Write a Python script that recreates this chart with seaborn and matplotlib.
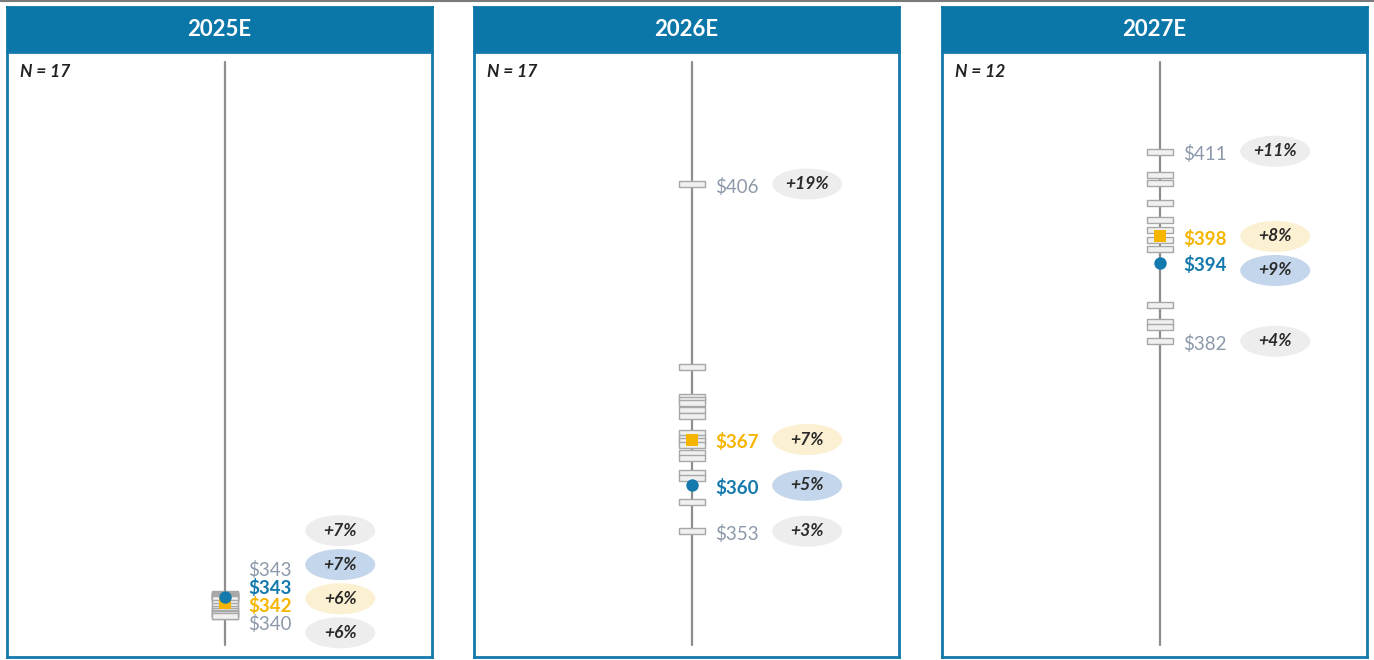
import numpy as np
import pandas as pd
import seaborn as sns
import matplotlib
matplotlib.use("Agg")
import matplotlib.pyplot as plt
from matplotlib.patches import Ellipse
from matplotlib.path import Path

# ---------------- data ----------------
years = ["2025E", "2026E", "2027E"]
n_counts = [17, 17, 12]
estimates_2025 = [343.4, 343.3, 343.2, 343.1, 343.0, 342.9, 342.8, 342.7, 342.6,
                  342.0, 341.6, 341.2, 340.8, 340.5, 340.3, 340.1, 340.0]
estimates_2026 = [406.0, 378.1, 373.5, 373.0, 372.6, 371.5, 370.6, 368.0, 367.2,
                  366.8, 366.2, 364.9, 364.2, 361.9, 361.1, 357.5, 353.0]
estimates_2027 = [410.9, 407.4, 406.2, 403.1, 400.5, 399.0, 397.5, 396.1,
                  387.5, 385.0, 384.2, 382.0]
estimates = [estimates_2025, estimates_2026, estimates_2027]

high = [343, 406, 411]
median = [343, 360, 394]
mean = [342, 367, 398]
low = [340, 353, 382]
pct_high = ["+7%", "+19%", "+11%"]
pct_median = ["+7%", "+5%", "+9%"]
pct_mean = ["+6%", "+7%", "+8%"]
pct_low = ["+6%", "+3%", "+4%"]

# ---------------- style ----------------
sns.set_theme(style="white")
plt.rcParams["font.family"] = ["Lato", "DejaVu Sans"]

BLUE = "#1479AC"
HEADER = "#0B76A8"
YELLOW = "#F6B500"
GRAY_TXT = "#8D99AA"
PILL = {"gray": "#EDEDED", "blue": "#C4D6EC", "yellow": "#FCF0D3"}
TXT = {"gray": GRAY_TXT, "blue": BLUE, "yellow": YELLOW}

W, H = 1374, 660
fig = plt.figure(figsize=(W / 100, H / 100), dpi=100)
fig.patch.set_facecolor("white")

# thin gray line at very top
fig.add_artist(plt.Line2D([0, 1], [1 - 1 / H, 1 - 1 / H], transform=fig.transFigure,
                          color="#7A7A7A", lw=1.5))

YLIM = (333.8, 426.15)
tick_marker = Path([(-2.3, -0.5), (2.3, -0.5), (2.3, 0.5), (-2.3, 0.5), (-2.3, -0.5)],
                   [Path.MOVETO, Path.LINETO, Path.LINETO, Path.LINETO, Path.CLOSEPOLY])

LINE_X, TEXT_X, PILL_X = 0.512, 0.568, 0.784
PILL_W = 70 / 425
PILL_H = 31 / 605 * (YLIM[1] - YLIM[0])


def spread(vals, gap, lo):
    order = sorted(range(len(vals)), key=lambda i: -vals[i])
    pos = {}
    prev = None
    for i in order:
        p = vals[i] if prev is None else min(vals[i], prev - gap)
        pos[i] = p
        prev = p
    lowest = min(pos.values())
    if lowest < lo:
        shift = lo - lowest
        pos = {k: v + shift for k, v in pos.items()}
    return [pos[i] for i in range(len(vals))]


lefts = [7, 474, 942]
pw = 425
for k in range(3):
    left = lefts[k]
    # header
    hax = fig.add_axes([left / W, (H - 52) / H, pw / W, 45 / H])
    hax.set_facecolor(HEADER)
    hax.set_xticks([]); hax.set_yticks([])
    for s in hax.spines.values():
        s.set_color(HEADER); s.set_linewidth(2)
    hax.text(0.5, 0.5, years[k], color="white", fontsize=16, fontweight="bold",
             ha="center", va="center", transform=hax.transAxes)

    ax = fig.add_axes([left / W, 3 / H, pw / W, 605 / H])
    ax.set_xlim(0, 1)
    ax.set_ylim(*YLIM)
    ax.set_xticks([]); ax.set_yticks([])
    for s in ax.spines.values():
        s.set_color(BLUE); s.set_linewidth(2)

    ax.axvline(LINE_X, ymin=0.02, ymax=0.984, color="#8E8E8E", lw=1.6, zorder=1)

    df = pd.DataFrame({"x": LINE_X, "y": estimates[k]})
    sns.scatterplot(data=df, x="x", y="y", ax=ax, marker=tick_marker, s=370,
                    color="#F0F0F0", edgecolor="#A8A8A8", linewidth=1.0, zorder=3,
                    legend=False)
    sns.scatterplot(x=[LINE_X], y=[mean[k]], ax=ax, marker="s", s=80, color=YELLOW,
                    edgecolor=YELLOW, linewidth=0, zorder=5, legend=False)
    sns.scatterplot(x=[LINE_X], y=[median[k]], ax=ax, marker="o", s=80, color=BLUE,
                    edgecolor=BLUE, linewidth=0, zorder=6, legend=False)
    ax.set_xlabel(""); ax.set_ylabel("")

    ax.text(0.03, 0.967, f"N = {n_counts[k]}", transform=ax.transAxes, fontsize=12.5,
            fontstyle="italic", fontweight="bold", color="#222222", ha="left", va="center")

    vals = [high[k], median[k], mean[k], low[k]]
    pcts = [pct_high[k], pct_median[k], pct_mean[k], pct_low[k]]
    kinds = ["gray", "blue", "yellow", "gray"]
    tpos = spread(vals, 2.75, YLIM[0] + 5.5)
    ppos = spread(vals, 5.2, YLIM[0] + 3.7)
    for v, t, p, pc, kind in zip(vals, tpos, ppos, pcts, kinds):
        ax.text(TEXT_X, t - 0.4, f"${v}", color=TXT[kind], fontsize=13.5,
                fontweight="bold" if kind != "gray" else "normal",
                ha="left", va="center", zorder=7)
        ax.add_patch(Ellipse((PILL_X, p), PILL_W, PILL_H, facecolor=PILL[kind],
                             edgecolor="none", zorder=2))
        ax.text(PILL_X, p, pc, color="#2A2A2A", fontsize=12.5, fontstyle="italic",
                fontweight="bold", ha="center", va="center", zorder=7)

fig.savefig("out.png", dpi=100, facecolor="white")
